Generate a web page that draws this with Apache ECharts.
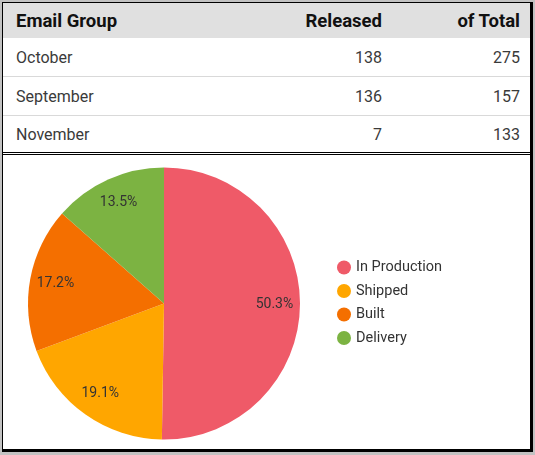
<!DOCTYPE html>
<html>
<head>
<meta charset="utf-8">
<script src="https://cdn.jsdelivr.net/npm/echarts@6/dist/echarts.min.js"></script>
<style>
  html, body { margin:0; padding:0; width:535px; height:455px; background:#c2c2c2; overflow:hidden; font-family: Roboto, "Noto Sans", sans-serif; }
  #box { position:absolute; left:2px; top:2px; width:527px; height:446px; background:#fff;
         border-left:1px solid #000; border-top:1px solid #000; border-right:3px solid #000; border-bottom:3px solid #000; }
  table { position:absolute; left:0; top:0; width:527px; border-collapse:collapse; table-layout:fixed; }
  th, td { padding:0; white-space:nowrap; }
  th { background:#e0e0e0; height:35px; font-weight:700; font-size:18.5px; color:#111; }
  td { font-size:16px; color:#3a3a3a; border-bottom:1px solid #d9d9d9; height:38px; }
  tr.last td { height:36px; border-bottom:3px double #000; }
  .c1 { text-align:left; padding-left:13px; }
  .c2 { text-align:right; padding-right:3px; }
  .c3 { text-align:right; padding-right:10px; }
  #chart { position:absolute; left:0; top:153px; width:527px; height:293px; }
</style>
</head>
<body>
<div id="box">
  <table id="tbl"></table>
  <div id="chart"></div>
</div>
<script>
const tableColumns = ['Email Group', 'Released', 'of Total'];
const tableMonths = ['October', 'September', 'November'];
const releasedValues = [138, 136, 7];
const totalValues = [275, 157, 133];

const pieCategories = ['In Production', 'Shipped', 'Built', 'Delivery'];
const pieValues = [50.3, 19.1, 17.2, 13.5];
const pieColors = ['#ef5a68', '#ffa600', '#f46f00', '#7cb342'];

// Build table
const tbl = document.getElementById('tbl');
const cg = document.createElement('colgroup');
[230, 152, 145].forEach(w => { const c = document.createElement('col'); c.style.width = w + 'px'; cg.appendChild(c); });
tbl.appendChild(cg);
const hr = document.createElement('tr');
tableColumns.forEach((t, i) => { const th = document.createElement('th'); th.className = 'c' + (i + 1); th.textContent = t; hr.appendChild(th); });
tbl.appendChild(hr);
tableMonths.forEach((m, r) => {
  const tr = document.createElement('tr');
  if (r === tableMonths.length - 1) tr.className = 'last';
  [m, releasedValues[r], totalValues[r]].forEach((v, i) => {
    const td = document.createElement('td'); td.className = 'c' + (i + 1); td.textContent = v; tr.appendChild(td);
  });
  tbl.appendChild(tr);
});

// Pie chart
const chart = echarts.init(document.getElementById('chart'), null, { renderer: 'canvas' });
const R = 136;
const pieData = pieCategories.map((n, i) => ({ name: n, value: pieValues[i], itemStyle: { color: pieColors[i] } }));
chart.setOption({
  animation: false,
  legend: {
    orient: 'vertical',
    left: 329, top: 99,
    icon: 'circle',
    itemWidth: 14, itemHeight: 14, itemGap: 8.5,
    data: pieCategories,
    textStyle: { fontFamily: 'Roboto', fontSize: 14.5, color: '#333' }
  },
  series: [
    {
      type: 'pie',
      center: [161, 147.5],
      radius: [0, R],
      startAngle: 90,
      clockwise: true,
      data: pieData,
      label: { show: false },
      labelLine: { show: false },
      itemStyle: { borderWidth: 0 },
      emphasis: { disabled: true }
    },
    {
      type: 'pie',
      center: [161, 147.5],
      radius: [R * 0.58, R],
      startAngle: 90,
      clockwise: true,
      silent: true,
      data: pieCategories.map((n, i) => ({ name: n, value: pieValues[i] })),
      itemStyle: { color: 'rgba(0,0,0,0)', borderWidth: 0 },
      label: {
        show: true, position: 'inside', rotate: 0,
        fontFamily: 'Roboto', fontSize: 14, color: '#333',
        formatter: p => p.value.toFixed(1) + '%'
      },
      labelLine: { show: false },
      emphasis: { disabled: true }
    }
  ]
});
</script>
</body>
</html>
